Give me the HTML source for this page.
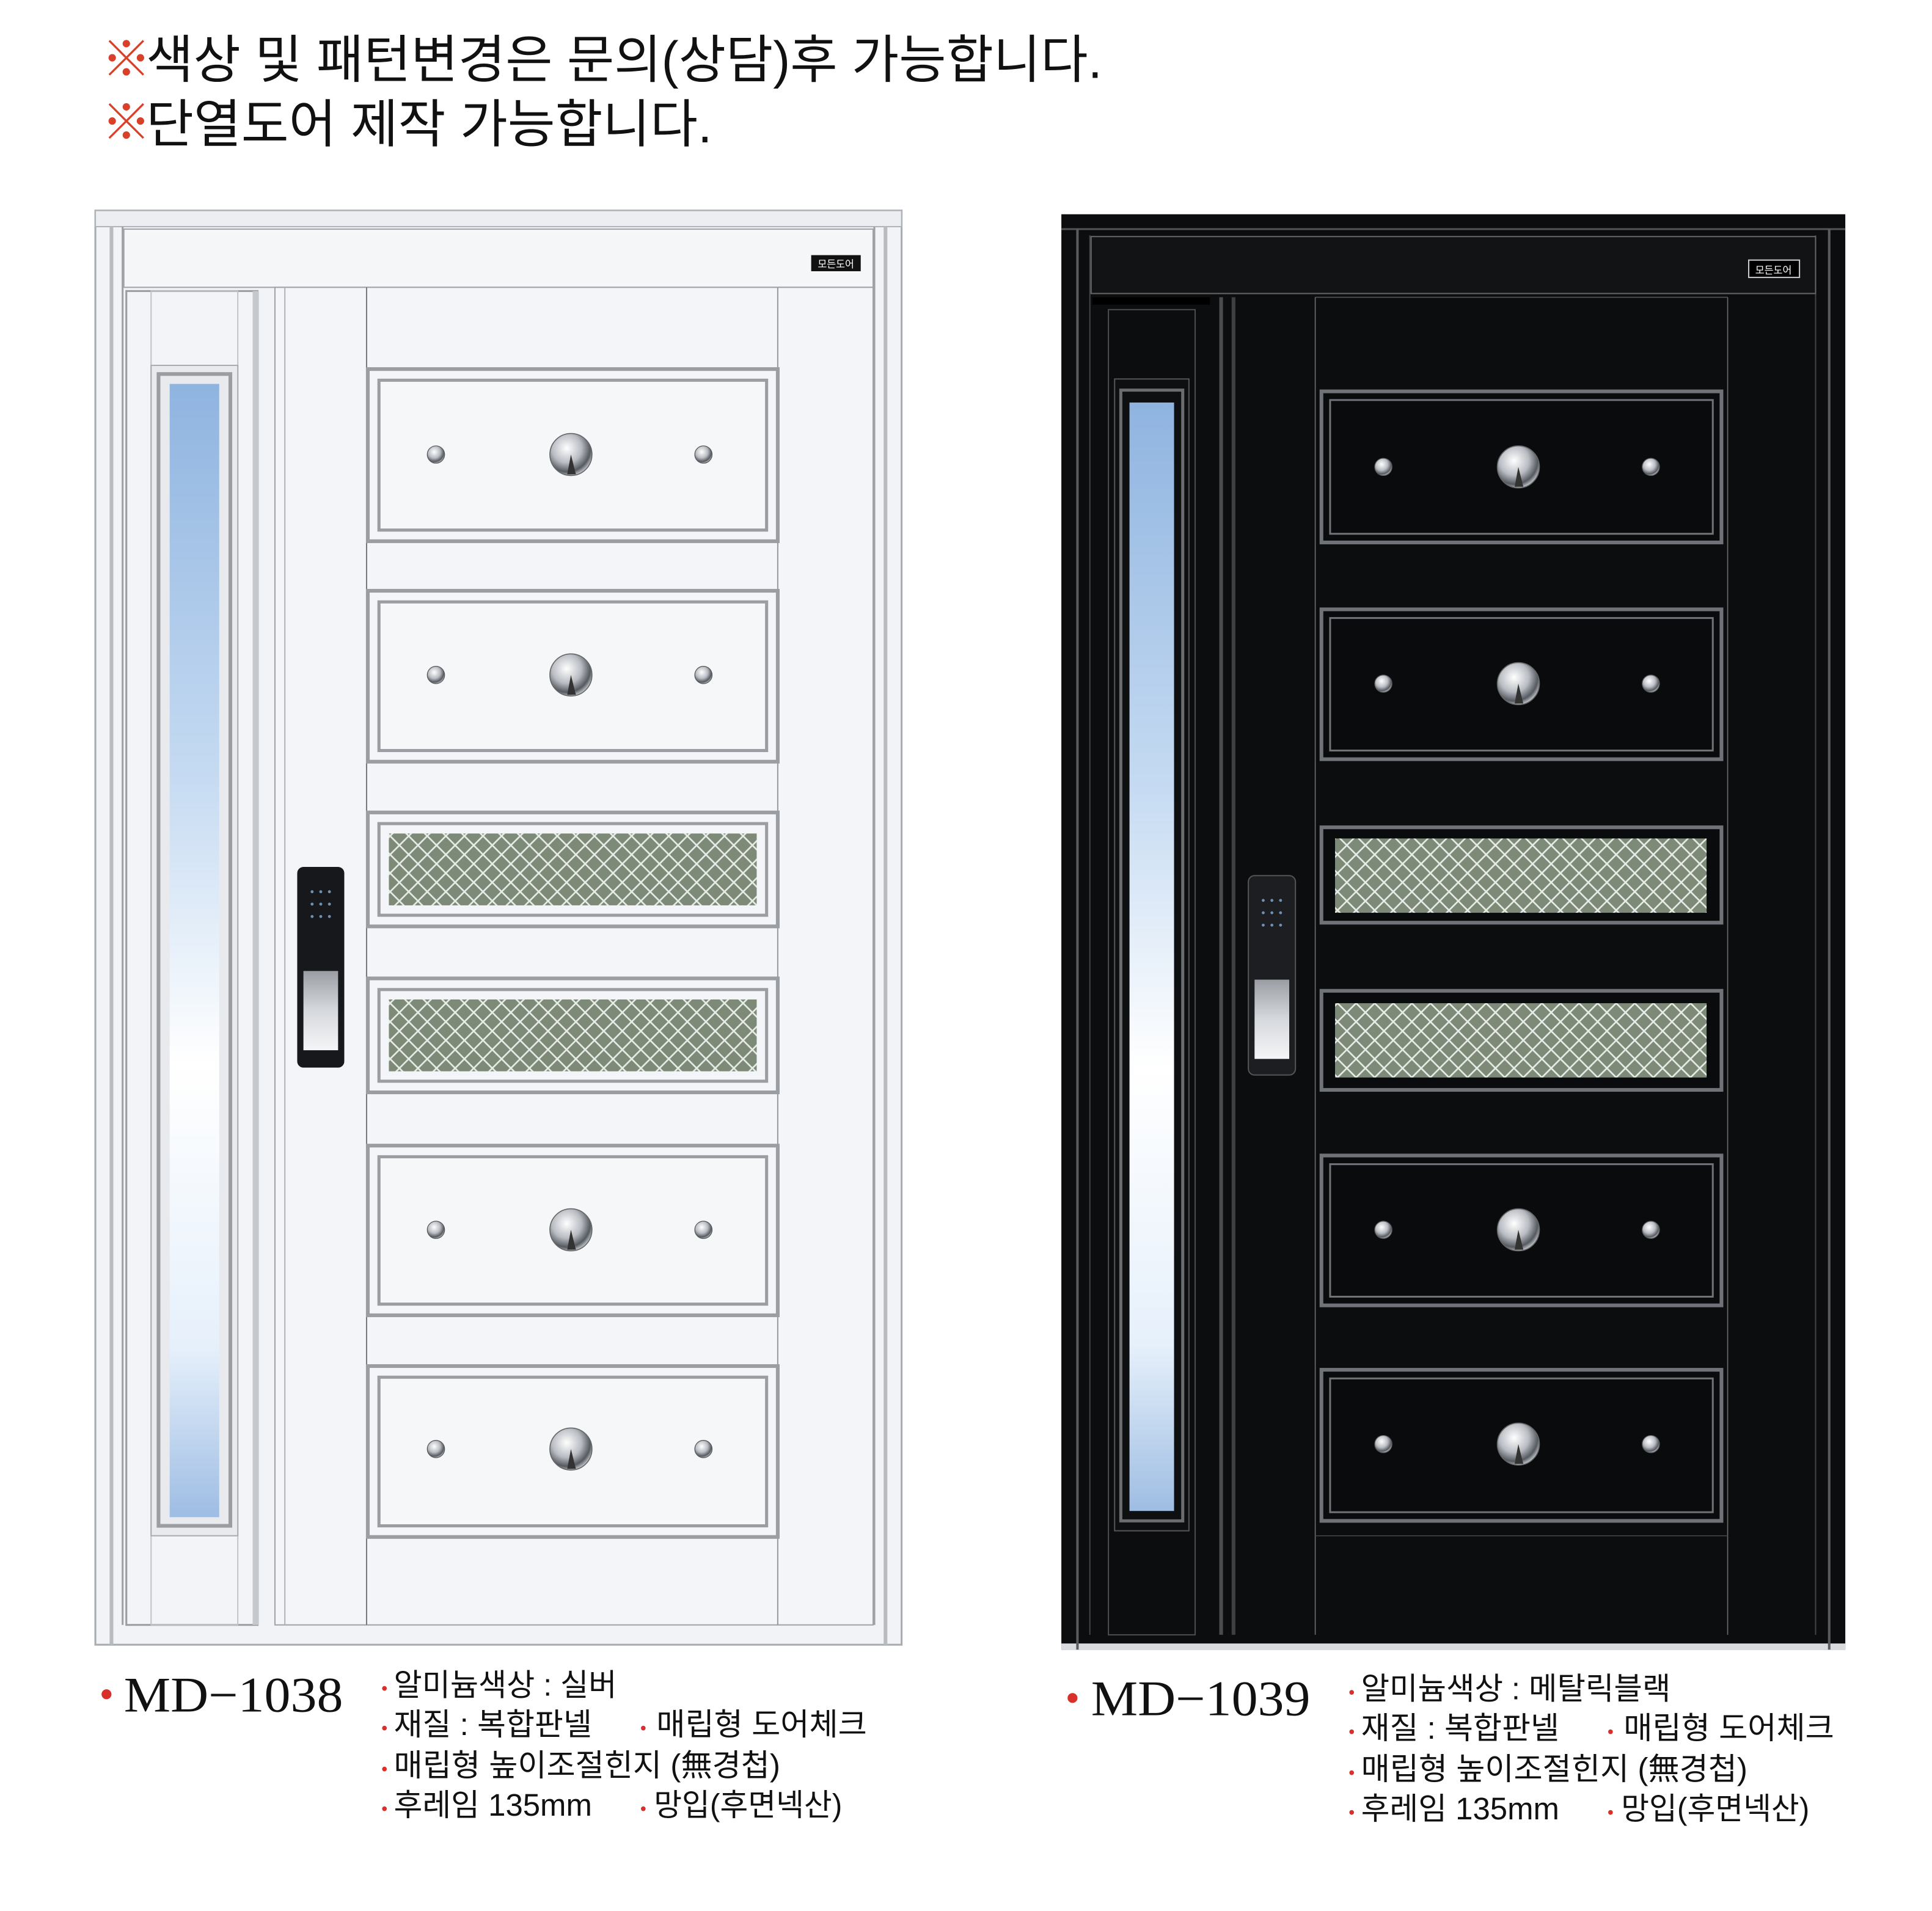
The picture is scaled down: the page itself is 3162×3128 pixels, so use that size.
<!DOCTYPE html>
<html><head><meta charset="utf-8"><style>
html,body{margin:0;padding:0;background:#fff;}
svg{display:block;}
text{font-family:"Liberation Sans","Noto Sans CJK KR",sans-serif;}
text.serif{font-family:"Liberation Serif",serif;}
</style></head><body>
<svg width="3162" height="3128" viewBox="0 0 1560 1543" preserveAspectRatio="none" xmlns="http://www.w3.org/2000/svg">
<defs>
<linearGradient id="glassL" x1="0" y1="0" x2="0" y2="1">
<stop offset="0" stop-color="#8fb4e0"/><stop offset="0.35" stop-color="#c6dbf2"/><stop offset="0.6" stop-color="#ffffff"/><stop offset="0.85" stop-color="#e6f0fb"/><stop offset="1" stop-color="#9ebde3"/></linearGradient>
<radialGradient id="stud" cx="0.4" cy="0.35" r="0.7"><stop offset="0" stop-color="#ffffff"/><stop offset="0.5" stop-color="#b8bcc2"/><stop offset="0.8" stop-color="#555a60"/><stop offset="1" stop-color="#dfe2e6"/></radialGradient>
<pattern id="mesh" width="15" height="15" patternUnits="userSpaceOnUse">
<rect width="15" height="15" fill="#7d8a78"/>
<path d="M0 0L15 15M15 0L0 15" stroke="#e8ece6" stroke-width="1.3"/></pattern>
<linearGradient id="handle" x1="0" y1="0" x2="0" y2="1"><stop offset="0" stop-color="#9a9ea4"/><stop offset="0.5" stop-color="#d6d9dd"/><stop offset="1" stop-color="#f4f5f7"/></linearGradient>
<g id="studs">
<circle cx="0" cy="0" r="17" fill="url(#stud)" stroke="#666" stroke-width="0.8"/>
<path d="M0 0L4 16L-3 16Z" fill="#333"/>
<circle cx="-109" cy="0" r="7" fill="url(#stud)" stroke="#555" stroke-width="0.6"/>
<circle cx="107" cy="0" r="7" fill="url(#stud)" stroke="#555" stroke-width="0.6"/>
</g>
</defs>
<rect width="1560" height="1543" fill="#fff"/>

<text x="82" y="62" font-size="40" fill="#d8402a">※</text>
<text x="118" y="63" font-size="42" fill="#111" textLength="772" lengthAdjust="spacingAndGlyphs">색상 및 패턴변경은 문의(상담)후 가능합니다.</text>
<text x="82" y="113" font-size="40" fill="#d8402a">※</text>
<text x="118" y="115" font-size="42" fill="#111" textLength="457" lengthAdjust="spacingAndGlyphs">단열도어 제작 가능합니다.</text>

<!-- LEFT DOOR -->
<g>
<rect x="77" y="170" width="651" height="1158" fill="#f1f3f6" stroke="#a8abb0" stroke-width="1.5"/>
<rect x="77" y="170" width="651" height="13" fill="#eceef1" stroke="#b0b3b8"/>
<line x1="90" y1="183" x2="90" y2="1328" stroke="#b8bbc0" stroke-width="3"/>
<line x1="99" y1="183" x2="99" y2="1312" stroke="#9da0a5" stroke-width="1.5"/>
<line x1="715" y1="183" x2="715" y2="1328" stroke="#b8bbc0" stroke-width="3"/>
<line x1="706" y1="183" x2="706" y2="1312" stroke="#9da0a5" stroke-width="1.5"/>
<rect x="100" y="185" width="605" height="47" fill="#f4f6f8" stroke="#a0a3a8"/>
<rect x="655" y="206" width="40" height="13" fill="#111"/>
<text x="675" y="216" font-size="8" fill="#fff" text-anchor="middle">모든도어</text>
<rect x="102" y="235" width="106" height="1077" fill="#f2f4f7" stroke="#9a9da2" stroke-width="1.5"/>
<rect x="122" y="235" width="70" height="1077" fill="none" stroke="#c0c3c8"/>
<rect x="204" y="235" width="5" height="1077" fill="#c5c8cc"/>
<rect x="122" y="295" width="70" height="945" fill="#e8eaee" stroke="#a8abb0"/>
<rect x="128" y="302" width="58" height="930" fill="none" stroke="#9a9da2" stroke-width="3"/>
<rect x="137" y="310" width="40" height="915" fill="url(#glassL)"/>
<rect x="222" y="232" width="483" height="1080" fill="#f3f5f8" stroke="#a0a3a8"/>
<line x1="230" y1="232" x2="230" y2="1312" stroke="#b0b3b8"/>
<line x1="296" y1="232" x2="296" y2="1312" stroke="#777" stroke-width="1"/>
<line x1="628" y1="232" x2="628" y2="1312" stroke="#999" stroke-width="1"/>
<g fill="#f3f5f8" stroke="#9a9da2">
<rect x="297" y="298" width="331" height="139" stroke-width="3"/><rect x="306" y="307" width="313" height="121" stroke-width="2.5" fill="#f5f7f9"/>
<rect x="297" y="477" width="331" height="138" stroke-width="3"/><rect x="306" y="486" width="313" height="120" stroke-width="2.5" fill="#f5f7f9"/>
<rect x="297" y="656" width="331" height="92" stroke-width="3"/><rect x="306" y="665" width="313" height="74" stroke-width="2.5"/>
<rect x="297" y="790" width="331" height="92" stroke-width="3"/><rect x="306" y="799" width="313" height="74" stroke-width="2.5"/>
<rect x="297" y="925" width="331" height="137" stroke-width="3"/><rect x="306" y="934" width="313" height="119" stroke-width="2.5" fill="#f5f7f9"/>
<rect x="297" y="1103" width="331" height="138" stroke-width="3"/><rect x="306" y="1112" width="313" height="120" stroke-width="2.5" fill="#f5f7f9"/>
</g>
<rect x="314" y="673" width="297" height="58" fill="url(#mesh)"/>
<rect x="314" y="807" width="297" height="58" fill="url(#mesh)"/>
<use href="#studs" x="461" y="367"/>
<use href="#studs" x="461" y="545"/>
<use href="#studs" x="461" y="993"/>
<use href="#studs" x="461" y="1170"/>
<rect x="240" y="700" width="38" height="162" rx="5" fill="#16181b"/>
<rect x="245" y="784" width="28" height="64" fill="url(#handle)"/>
<g fill="#6f8fb5"><circle cx="252" cy="720" r="1.2"/><circle cx="259" cy="720" r="1.2"/><circle cx="266" cy="720" r="1.2"/><circle cx="252" cy="730" r="1.2"/><circle cx="259" cy="730" r="1.2"/><circle cx="266" cy="730" r="1.2"/><circle cx="252" cy="740" r="1.2"/><circle cx="259" cy="740" r="1.2"/><circle cx="266" cy="740" r="1.2"/></g>
</g>

<!-- RIGHT DOOR -->
<g>
<rect x="857" y="173" width="633" height="1159" fill="#0c0d0e"/>
<rect x="857" y="1327" width="633" height="5" fill="#d8dadd"/>
<line x1="857" y1="185" x2="1490" y2="185" stroke="#555" stroke-width="1.5"/>
<line x1="870" y1="185" x2="870" y2="1332" stroke="#5a5d60" stroke-width="2"/>
<line x1="880" y1="190" x2="880" y2="1320" stroke="#444" stroke-width="1"/>
<line x1="1477" y1="185" x2="1477" y2="1332" stroke="#5a5d60" stroke-width="2"/>
<line x1="1466" y1="190" x2="1466" y2="1320" stroke="#444" stroke-width="1"/>
<rect x="881" y="191" width="585" height="46" fill="#121315" stroke="#666" stroke-width="1"/>
<rect x="1412" y="210" width="41" height="14" fill="#000" stroke="#ccc" stroke-width="1"/>
<text x="1432" y="221" font-size="8" fill="#fff" text-anchor="middle">모든도어</text>
<rect x="882" y="240" width="95" height="6" fill="#000"/>
<rect x="895" y="250" width="70" height="1070" fill="none" stroke="#4a4d50"/>
<rect x="900" y="306" width="60" height="930" fill="#0e0f10" stroke="#555"/>
<rect x="905" y="315" width="50" height="913" fill="none" stroke="#6a6d70" stroke-width="2.5"/>
<rect x="912" y="325" width="36" height="895" fill="url(#glassL)"/>
<line x1="986" y1="240" x2="986" y2="1320" stroke="#4a4d50" stroke-width="3"/>
<line x1="996" y1="240" x2="996" y2="1320" stroke="#3d4043" stroke-width="3"/>
<line x1="1062" y1="240" x2="1062" y2="1320" stroke="#6a6d70" stroke-width="0.8"/>
<line x1="1395" y1="240" x2="1395" y2="1320" stroke="#6a6d70" stroke-width="0.8"/>
<line x1="1062" y1="240" x2="1395" y2="240" stroke="#555" stroke-width="0.8"/>
<line x1="1062" y1="1240" x2="1395" y2="1240" stroke="#444" stroke-width="0.8"/>
<g fill="#0a0b0c" stroke="#6f7276">
<rect x="1067" y="316" width="323" height="122" stroke-width="3"/><rect x="1074" y="323" width="309" height="108" stroke-width="1.5"/>
<rect x="1067" y="492" width="323" height="121" stroke-width="3"/><rect x="1074" y="499" width="309" height="107" stroke-width="1.5"/>
<rect x="1067" y="668" width="323" height="77" stroke-width="3"/>
<rect x="1067" y="800" width="323" height="80" stroke-width="3"/>
<rect x="1067" y="933" width="323" height="121" stroke-width="3"/><rect x="1074" y="940" width="309" height="107" stroke-width="1.5"/>
<rect x="1067" y="1106" width="323" height="122" stroke-width="3"/><rect x="1074" y="1113" width="309" height="108" stroke-width="1.5"/>
</g>
<rect x="1078" y="677" width="300" height="60" fill="url(#mesh)"/>
<rect x="1078" y="810" width="300" height="60" fill="url(#mesh)"/>
<use href="#studs" x="1226" y="377"/>
<use href="#studs" x="1226" y="552"/>
<use href="#studs" x="1226" y="993"/>
<use href="#studs" x="1226" y="1166"/>
<rect x="1008" y="707" width="38" height="161" rx="5" fill="#1c1e21" stroke="#555"/>
<rect x="1013" y="791" width="28" height="64" fill="url(#handle)"/>
<g fill="#6f8fb5"><circle cx="1020" cy="727" r="1.2"/><circle cx="1027" cy="727" r="1.2"/><circle cx="1034" cy="727" r="1.2"/><circle cx="1020" cy="737" r="1.2"/><circle cx="1027" cy="737" r="1.2"/><circle cx="1034" cy="737" r="1.2"/><circle cx="1020" cy="747" r="1.2"/><circle cx="1027" cy="747" r="1.2"/><circle cx="1034" cy="747" r="1.2"/></g>
</g>

<g fill="#111">
<circle cx="86" cy="1368" r="4" fill="#d8302a"/>
<text class="serif" x="100" y="1382" font-size="40" textLength="177" lengthAdjust="spacingAndGlyphs">MD−1038</text>
<g font-size="25">
<text x="308" y="1368" fill="#d8302a" font-size="14">•</text><text x="318" y="1369" textLength="180" lengthAdjust="spacingAndGlyphs">알미늄색상 : 실버</text>
<text x="308" y="1400" fill="#d8302a" font-size="14">•</text><text x="318" y="1401" textLength="160" lengthAdjust="spacingAndGlyphs">재질 : 복합판넬</text>
<text x="517" y="1400" fill="#d8302a" font-size="14">•</text><text x="530" y="1401" textLength="170" lengthAdjust="spacingAndGlyphs">매립형 도어체크</text>
<text x="308" y="1433" fill="#d8302a" font-size="14">•</text><text x="318" y="1434" textLength="312" lengthAdjust="spacingAndGlyphs">매립형 높이조절힌지 (無경첩)</text>
<text x="308" y="1465" fill="#d8302a" font-size="14">•</text><text x="318" y="1466" textLength="160" lengthAdjust="spacingAndGlyphs">후레임 135mm</text>
<text x="517" y="1465" fill="#d8302a" font-size="14">•</text><text x="528" y="1466" textLength="152" lengthAdjust="spacingAndGlyphs">망입(후면넥산)</text>
</g>
<circle cx="866" cy="1371" r="4" fill="#d8302a"/>
<text class="serif" x="881" y="1385" font-size="40" textLength="177" lengthAdjust="spacingAndGlyphs">MD−1039</text>
<g font-size="25">
<text x="1089" y="1371" fill="#d8302a" font-size="14">•</text><text x="1099" y="1372" textLength="250" lengthAdjust="spacingAndGlyphs">알미늄색상 : 메탈릭블랙</text>
<text x="1089" y="1403" fill="#d8302a" font-size="14">•</text><text x="1099" y="1404" textLength="160" lengthAdjust="spacingAndGlyphs">재질 : 복합판넬</text>
<text x="1298" y="1403" fill="#d8302a" font-size="14">•</text><text x="1311" y="1404" textLength="170" lengthAdjust="spacingAndGlyphs">매립형 도어체크</text>
<text x="1089" y="1436" fill="#d8302a" font-size="14">•</text><text x="1099" y="1437" textLength="312" lengthAdjust="spacingAndGlyphs">매립형 높이조절힌지 (無경첩)</text>
<text x="1089" y="1468" fill="#d8302a" font-size="14">•</text><text x="1099" y="1469" textLength="160" lengthAdjust="spacingAndGlyphs">후레임 135mm</text>
<text x="1298" y="1468" fill="#d8302a" font-size="14">•</text><text x="1309" y="1469" textLength="152" lengthAdjust="spacingAndGlyphs">망입(후면넥산)</text>
</g>
</g>
</svg>
</body></html>
